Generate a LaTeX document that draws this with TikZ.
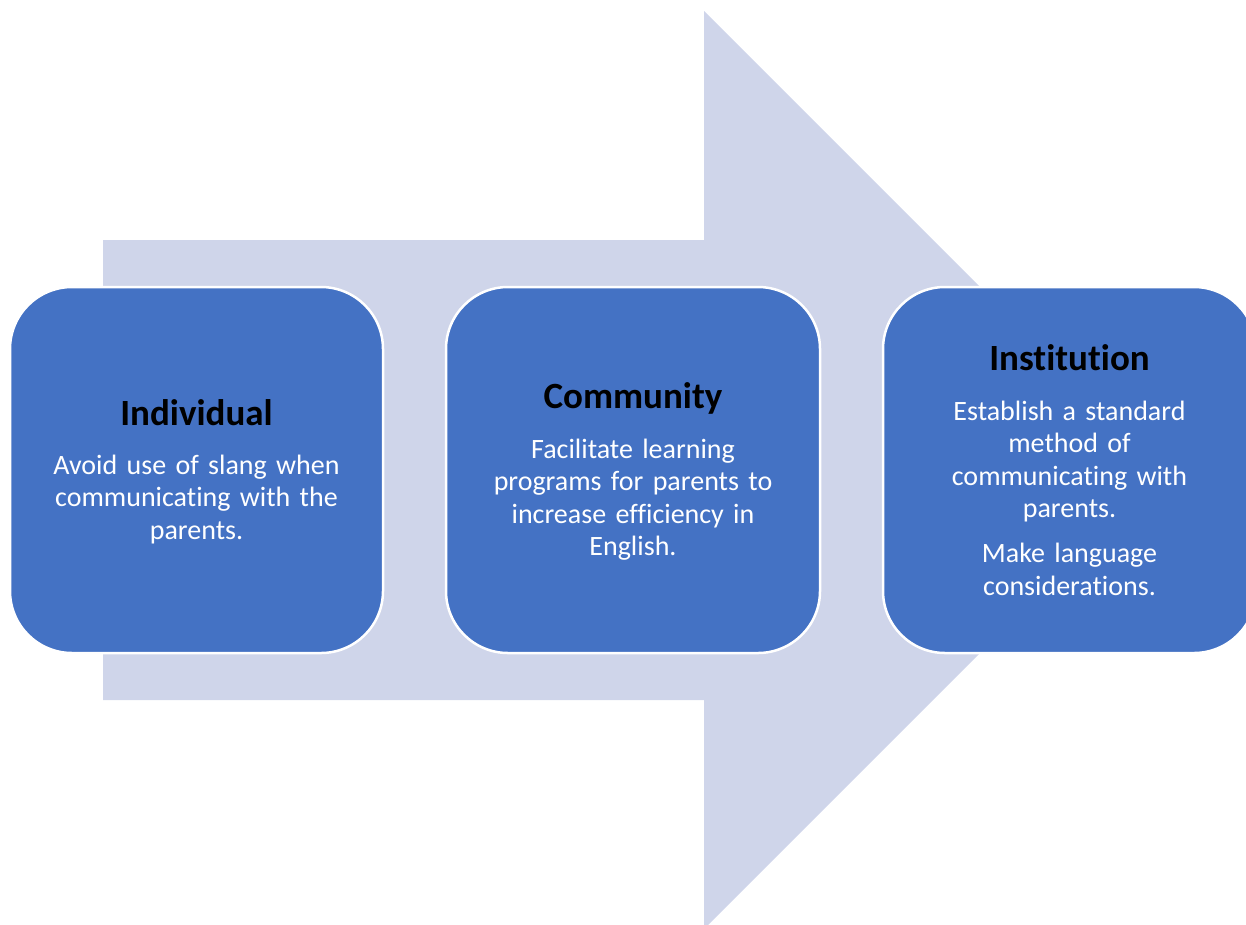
\documentclass[tikz,border=0pt]{standalone}
\usepackage{fontspec}
\setmainfont{Carlito}[Ligatures=NoCommon]
\begin{document}
\begin{tikzpicture}[x=1pt,y=-1pt,
  flowfill/.style={fill=arrowblue},
  stagebox/.style={draw=white, line width=2.5pt, fill=boxblue, rounded corners=62pt},
  stagetitle/.style={anchor=base, inner sep=0pt, text=black,
    font=\fontsize{37}{44}\selectfont\bfseries},
  stagebody/.style={anchor=base, inner sep=0pt, text=white, text width=370pt, align=center,
    font=\fontsize{28}{32.5}\selectfont}]
\definecolor{arrowblue}{HTML}{CFD5EA}
\definecolor{boxblue}{HTML}{4472C4}
\useasboundingbox (0,0) rectangle (1246,924);
\clip (0,0) rectangle (1246,924);

% broad background arrow
\fill[flowfill] (103,240) -- (704,240) -- (704,11) -- (1163,470)
  -- (704,929) -- (704,700) -- (103,700) -- cycle;

% three stages
\draw[stagebox] (10,287) rectangle (383,653);
\draw[stagebox] (446,287) rectangle (820,653);
\draw[stagebox] (883,287) rectangle (1256,653);

\node[stagetitle] (t1) at (196.5,425) {Individual};
\node[stagebody] (b1) at (196.5,474) {Avoid use of slang when\\communicating with the\\parents.};

\node[stagetitle] (t2) at (633,408) {Community};
\node[stagebody] (b2) at (633,458) {Facilitate learning\\programs for parents to\\increase efficiency in\\English.};

\node[stagetitle] (t3) at (1069.5,370) {Institution};
\node[stagebody] (b3) at (1069.5,420) {Establish a standard\\method of\\communicating with\\parents.\par\vspace{12.5pt}Make language\\considerations.};
\end{tikzpicture}
\end{document}
